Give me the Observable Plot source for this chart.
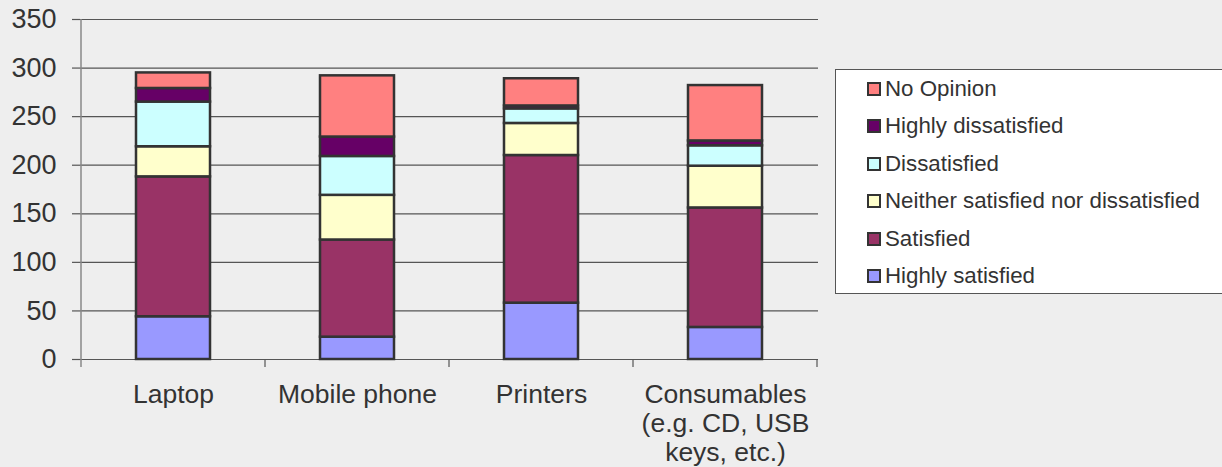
<!DOCTYPE html>
<html>
<head>
<meta charset="utf-8">
<script src="https://cdn.jsdelivr.net/npm/d3@7"></script>
<script src="https://cdn.jsdelivr.net/npm/@observablehq/plot@0.6"></script>
<style>
  html, body { margin: 0; padding: 0; background: #eeeeee; }
  #wrap { position: relative; width: 1222px; height: 467px; overflow: hidden; background: #eeeeee; }
  #legend { position: absolute; left: 835px; top: 69px; width: 420px; height: 225px; box-sizing: border-box;
            background: #ffffff; border: 1.5px solid #555; padding-top: 0px; }
  .row { display: flex; align-items: center; height: 37.5px; padding-left: 31px;
         font-family: "Liberation Sans", Arial, sans-serif; font-size: 22.3px; color: #333; white-space: nowrap; }
  .sw { width: 14px; height: 14px; box-sizing: border-box; border: 2px solid #333; margin-right: 4px; flex: none; }
</style>
</head>
<body>
<div id="wrap"><div id="chart"></div><div id="legend"></div></div>
<script>
const categories = ["Laptop", "Mobile phone", "Printers", "Consumables (e.g. CD, USB keys, etc.)"];
const tickLabels = ["Laptop", "Mobile phone", "Printers", "Consumables\n(e.g. CD, USB\nkeys, etc.)"];
const statuses = ["Highly satisfied", "Satisfied", "Neither satisfied nor dissatisfied", "Dissatisfied", "Highly dissatisfied", "No Opinion"];
const colors = ["#9999FF", "#993366", "#FFFFCC", "#CCFFFF", "#660066", "#FF8080"];

const highlySatisfied    = [44, 23, 58, 33];
const satisfied          = [144, 100, 152, 123];
const neither            = [31, 46, 33, 43];
const dissatisfied       = [46, 40, 15, 21];
const highlyDissatisfied = [14, 20, 3, 5];
const noOpinion          = [16, 63, 28, 57];

const yTicks = [0, 50, 100, 150, 200, 250, 300, 350];

const series = [highlySatisfied, satisfied, neither, dissatisfied, highlyDissatisfied, noOpinion];
const data = [];
series.forEach((vals, si) => vals.forEach((v, ci) => data.push({category: categories[ci], status: statuses[si], value: v})));

function axisFrame(index, scales, values, dims) {
  const x = scales.x, y = scales.y;
  const g = d3.create("svg:g");
  const bw = typeof x.bandwidth === "function" ? x.bandwidth() : x.bandwidth;
  const step = typeof x.step === "function" ? x.step() : x.step;
  const half = (step - bw) / 2;
  const y0 = y(0), yTop = y(350);
  const bounds = categories.map(c => x(c) - half);
  bounds.push(x(categories[categories.length - 1]) + bw + half);
  g.append("line").attr("x1", bounds[0]).attr("x2", bounds[0]).attr("y1", yTop).attr("y2", y0 + 8)
    .attr("stroke", "#888").attr("stroke-width", 1.5);
  bounds.slice(1).forEach(b => {
    g.append("line").attr("x1", b).attr("x2", b).attr("y1", y0).attr("y2", y0 + 8)
      .attr("stroke", "#555").attr("stroke-width", 1.2);
  });
  return g.node();
}

const plot = Plot.plot({
  width: 1222,
  height: 467,
  marginLeft: 80,
  marginRight: 404,
  marginTop: 19,
  marginBottom: 108,
  style: {background: "transparent", fontFamily: "'Liberation Sans', Arial, sans-serif", overflow: "visible"},
  x: {domain: categories, paddingInner: 0.6, paddingOuter: 0.3, axis: null},
  y: {domain: [0, 350], axis: null},
  color: {domain: statuses, range: colors},
  marks: [
    Plot.gridY(yTicks, {stroke: "#555", strokeOpacity: 1, strokeWidth: 1.2}),
    Plot.axisY(yTicks, {label: null, tickSize: 8, tickPadding: 16, fontSize: 27, fill: "#333", stroke: "#555", strokeWidth: 1.2}),
    axisFrame,
    Plot.barY(data, Plot.stackY({x: "category", y: "value", fill: "status", order: statuses, stroke: "#333", strokeWidth: 2.5})),
    Plot.axisX(categories, {label: null, tickSize: 0, tickPadding: 23, fontSize: 26.5, lineHeight: 1.1, fill: "#333",
      tickFormat: d => tickLabels[categories.indexOf(d)]})
  ]
});
document.getElementById("chart").appendChild(plot);

const legend = d3.select("#legend");
statuses.slice().reverse().forEach(s => {
  const row = legend.append("div").attr("class", "row");
  row.append("div").attr("class", "sw").style("background", colors[statuses.indexOf(s)]);
  row.append("span").text(s);
});
</script>
</body>
</html>
